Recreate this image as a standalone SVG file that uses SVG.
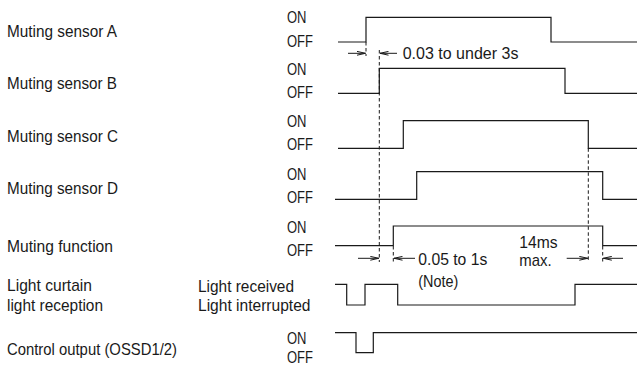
<svg xmlns="http://www.w3.org/2000/svg" width="637" height="369" viewBox="0 0 637 369">
<style>
text{font-family:"Liberation Sans",Arial,sans-serif;font-size:17px;fill:#1a1a1a}
text.s{font-size:16px}
.w{fill:none;stroke:#1a1a1a;stroke-width:1.2}
.d{fill:none;stroke:#1a1a1a;stroke-width:1;stroke-dasharray:3.5 2.5}
.a{fill:none;stroke:#1a1a1a;stroke-width:1}
</style>
<defs>
<marker id="ah" viewBox="0 0 9 5" refX="8.5" refY="2.5" markerWidth="9" markerHeight="5" markerUnits="userSpaceOnUse" orient="auto">
<path d="M0,0.6 L8.5,2.5 L0,4.4" fill="none" stroke="#1a1a1a" stroke-width="1"/>
</marker>
</defs>
<rect width="637" height="369" fill="#fff"/>
<g id="sensorA">
<text x="7" y="37" textLength="110" lengthAdjust="spacingAndGlyphs">Muting sensor A</text>
<text x="287" y="23" textLength="19.5" lengthAdjust="spacingAndGlyphs">ON</text>
<text x="287" y="47" textLength="26" lengthAdjust="spacingAndGlyphs">OFF</text>
<path class="w" d="M338,42 H366 V17.3 H551 V42 H637"/>
</g>
<g id="sensorB">
<text x="7" y="88.5" textLength="110" lengthAdjust="spacingAndGlyphs">Muting sensor B</text>
<text x="287" y="75" textLength="19.5" lengthAdjust="spacingAndGlyphs">ON</text>
<text x="287" y="98" textLength="26" lengthAdjust="spacingAndGlyphs">OFF</text>
<path class="w" d="M338,93.3 H379.3 V68.3 H565 V93.3 H637"/>
</g>
<g id="sensorC">
<text x="7" y="142" textLength="111" lengthAdjust="spacingAndGlyphs">Muting sensor C</text>
<text x="287" y="127" textLength="19.5" lengthAdjust="spacingAndGlyphs">ON</text>
<text x="287" y="150" textLength="26" lengthAdjust="spacingAndGlyphs">OFF</text>
<path class="w" d="M338,148.3 H403.3 V120.7 H588.3 V148.3 H637"/>
</g>
<g id="sensorD">
<text x="7" y="194" textLength="111" lengthAdjust="spacingAndGlyphs">Muting sensor D</text>
<text x="287" y="180" textLength="19.5" lengthAdjust="spacingAndGlyphs">ON</text>
<text x="287" y="203" textLength="26" lengthAdjust="spacingAndGlyphs">OFF</text>
<path class="w" d="M335,199.3 H416.7 V171.7 H602.7 V199.3 H637"/>
</g>
<g id="mutingFunction">
<text x="7" y="252" textLength="106" lengthAdjust="spacingAndGlyphs">Muting function</text>
<text x="287" y="233" textLength="19.5" lengthAdjust="spacingAndGlyphs">ON</text>
<text x="287" y="256" textLength="26" lengthAdjust="spacingAndGlyphs">OFF</text>
<path class="w" d="M335,245.7 H393.3 V226 H602.7 V245.7 H637"/>
</g>
<g id="lightCurtain">
<text x="7" y="291" textLength="85" lengthAdjust="spacingAndGlyphs">Light curtain</text>
<text x="7" y="311" textLength="96" lengthAdjust="spacingAndGlyphs">light reception</text>
<text x="198" y="291.5" textLength="96" lengthAdjust="spacingAndGlyphs">Light received</text>
<text x="198" y="311" textLength="112.5" lengthAdjust="spacingAndGlyphs">Light interrupted</text>
<path class="w" d="M335,284.3 H346.7 V305 H365 V284.3 H397.7 V305 H575 V284.3 H637"/>
</g>
<g id="controlOutput">
<text x="7" y="355" textLength="170" lengthAdjust="spacingAndGlyphs">Control output (OSSD1/2)</text>
<text class="s" x="287" y="344" textLength="19.5" lengthAdjust="spacingAndGlyphs">ON</text>
<text class="s" x="287" y="363" textLength="26" lengthAdjust="spacingAndGlyphs">OFF</text>
<path class="w" d="M335,332.7 H356 V352.7 H373.3 V332.7 H637"/>
</g>
<g id="connectors">
<line class="d" x1="366" y1="42" x2="366" y2="56"/>
<line class="d" x1="379.3" y1="50" x2="379.3" y2="262"/>
<line class="d" x1="393.3" y1="246" x2="393.3" y2="262"/>
<line class="d" x1="588.3" y1="148.3" x2="588.3" y2="262"/>
<line class="d" x1="602.7" y1="246" x2="602.7" y2="262"/>
<line class="a" x1="348" y1="53.3" x2="365.5" y2="53.3" marker-end="url(#ah)"/>
<line class="a" x1="397" y1="53.3" x2="380" y2="53.3" marker-end="url(#ah)"/>
<line class="a" x1="358" y1="258.3" x2="378.8" y2="258.3" marker-end="url(#ah)"/>
<line class="a" x1="415" y1="258.3" x2="394" y2="258.3" marker-end="url(#ah)"/>
<line class="a" x1="566.7" y1="258.3" x2="587.8" y2="258.3" marker-end="url(#ah)"/>
<line class="a" x1="623" y1="258.3" x2="603.3" y2="258.3" marker-end="url(#ah)"/>
<text x="402.7" y="59.3" textLength="115.7" lengthAdjust="spacingAndGlyphs">0.03 to under 3s</text>
<text x="418.3" y="265" textLength="69" lengthAdjust="spacingAndGlyphs">0.05 to 1s</text>
<text x="418.3" y="287" textLength="40" lengthAdjust="spacingAndGlyphs">(Note)</text>
<text x="519.3" y="248.3" textLength="38.3" lengthAdjust="spacingAndGlyphs">14ms</text>
<text x="519.3" y="266" textLength="32.3" lengthAdjust="spacingAndGlyphs">max.</text>
</g>
</svg>
